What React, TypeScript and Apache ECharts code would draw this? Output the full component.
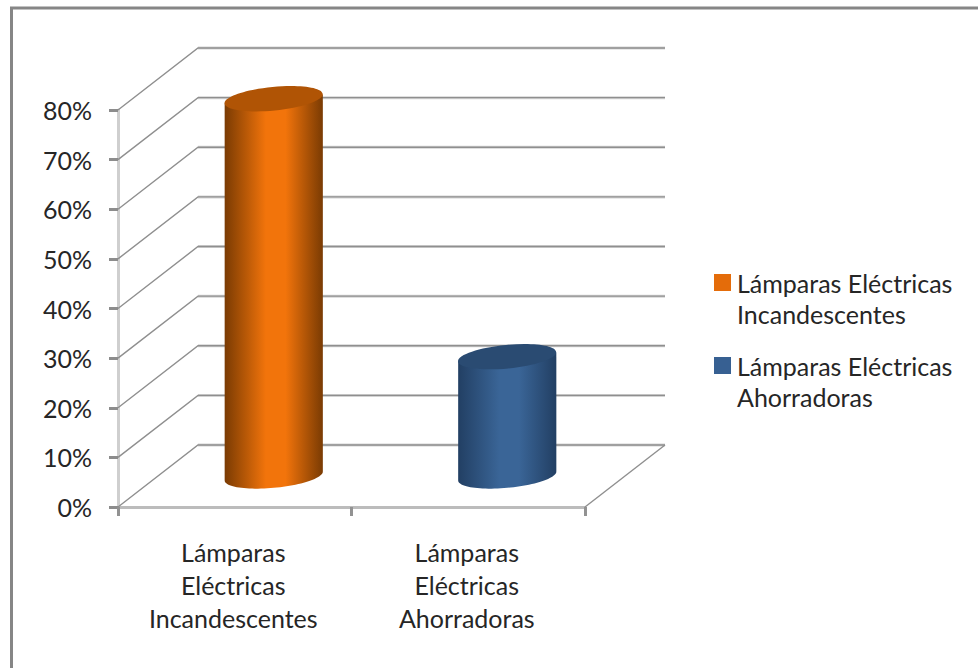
import React, { useEffect, useRef } from "react";
import * as echarts from "echarts";

const categories = ["Lámparas\nEléctricas\nIncandescentes", "Lámparas\nEléctricas\nAhorradoras"];
const seriesNames = ["Lámparas Eléctricas\nIncandescentes", "Lámparas Eléctricas\nAhorradoras"];
const incandescentes = [[0, 76]];
const ahorradoras = [[1, 24]];
const gridTicks = [0, 10, 20, 30, 40, 50, 60, 70, 80];

const FONT = "Lato";
const DEPTH_X = 80;
const DEPTH_Y = 62;

function wallItem(params: any, api: any) {
  const v = api.value(0);
  const p = api.coord([0, v]);
  const cs = params.coordSys;
  const x0 = cs.x;
  const x1 = cs.x + cs.width;
  const y = p[1];
  const children: any[] = [];
  const grey = "#8f8f8f";
  children.push({
    type: "polyline",
    shape: { points: [[x0 + DEPTH_X, y - DEPTH_Y], [x1 + DEPTH_X, y - DEPTH_Y]] },
    style: { stroke: "#d4d4d4", lineWidth: 3, fill: "none" },
  });
  children.push({
    type: "polyline",
    shape: { points: [[x0, y], [x0 + DEPTH_X, y - DEPTH_Y], [x1 + DEPTH_X, y - DEPTH_Y]] },
    style: { stroke: grey, lineWidth: 1.4, fill: "none" },
  });
  if (v === 0) {
    children.push({
      type: "line",
      shape: { x1: x1, y1: y, x2: x1 + DEPTH_X, y2: y - DEPTH_Y },
      style: { stroke: grey, lineWidth: 1.4 },
    });
  }
  return { type: "group", children };
}

function cylinderItem(edge: string, mid: string, top: string) {
  return (params: any, api: any) => {
    const cat = api.value(0);
    const val = api.value(1);
    const base = api.coord([cat, 0]);
    const head = api.coord([cat, val]);
    const cx = base[0] + DEPTH_X / 2 - 1;
    const cyB = base[1] - DEPTH_Y / 2;
    const cyT = head[1] - DEPTH_Y / 2;
    const rx = 49.3;
    const ry = 11.8;
    const th = (-5.5 * Math.PI) / 180;
    const c = Math.cos(th);
    const s = Math.sin(th);
    const t0 = Math.atan2(-ry * s, rx * c);
    const px = (t: number) => rx * Math.cos(t) * c - ry * Math.sin(t) * s;
    const py = (t: number) => rx * Math.cos(t) * s + ry * Math.sin(t) * c;
    const pts: number[][] = [];
    for (let i = 0; i <= 48; i++) {
      const t = t0 + (Math.PI * i) / 48;
      pts.push([cx + px(t), cyB + py(t)]);
    }
    pts.push([cx + px(t0 + Math.PI), cyT + py(t0 + Math.PI)]);
    pts.push([cx + px(t0), cyT + py(t0)]);
    const fill = new echarts.graphic.LinearGradient(0, 0, 1, 0, [
      { offset: 0, color: edge },
      { offset: 0.42, color: mid },
      { offset: 0.62, color: mid },
      { offset: 1, color: edge },
    ]);
    return {
      type: "group",
      children: [
        { type: "polygon", shape: { points: pts }, style: { fill } },
        {
          type: "ellipse",
          originX: cx,
          originY: cyT,
          rotation: -th,
          shape: { cx, cy: cyT, rx, ry },
          style: { fill: top },
        },
      ],
    };
  };
}

export default function App() {
  const ref = useRef<HTMLDivElement>(null);
  useEffect(() => {
    document.body.style.margin = "0";
    const chart = echarts.init(ref.current!, null, { renderer: "svg" });
    chart.setOption({
      animation: false,
      backgroundColor: "#ffffff",
      textStyle: { fontFamily: FONT },
      graphic: [
        {
          type: "polyline",
          silent: true,
          shape: { points: [[11.5, 668], [11.5, 8], [978, 8]] },
          style: { stroke: "#868686", lineWidth: 3, fill: "none" },
        },
      ],
      legend: {
        orient: "vertical",
        left: 714,
        top: 267,
        padding: 0,
        itemWidth: 17,
        itemHeight: 48,
        itemGap: 21,
        icon: "path://M0,0H17V17H0Z M0,48L0.01,48Z",
        textStyle: { fontFamily: FONT, fontSize: 25, lineHeight: 31, color: "#262626", padding: [0, 0, 0, 1] },
        data: seriesNames,
      },
      grid: { left: 118, right: 393, top: 110, bottom: 161 },
      xAxis: {
        type: "category",
        data: categories,
        axisLine: { lineStyle: { color: "#bcbcbc", width: 3 } },
        axisTick: { show: true, length: 9, lineStyle: { color: "#929292", width: 3 } },
        axisLabel: { fontFamily: FONT, fontSize: 25, lineHeight: 33, color: "#262626", margin: 28, padding: [0, 3, 0, 0] },
      },
      yAxis: {
        type: "value",
        min: 0,
        max: 80,
        interval: 10,
        axisLine: { show: true, lineStyle: { color: "#cfcfcf", width: 3 } },
        axisTick: { show: true, length: 9, lineStyle: { color: "#8c8c8c", width: 3 } },
        splitLine: { show: false },
        axisLabel: { fontFamily: FONT, fontSize: 25, color: "#262626", margin: 26, formatter: "{value}%" },
      },
      series: [
        {
          type: "custom",
          silent: true,
          z: 1,
          renderItem: wallItem,
          encode: { y: 0 },
          data: gridTicks.map((v) => [v]),
        },
        {
          name: seriesNames[0],
          type: "custom",
          z: 3,
          itemStyle: { color: "#e46c0a" },
          renderItem: cylinderItem("#7a3b03", "#f2740b", "#b05405"),
          encode: { x: 0, y: 1 },
          data: incandescentes,
        },
        {
          name: seriesNames[1],
          type: "custom",
          z: 3,
          itemStyle: { color: "#376092" },
          renderItem: cylinderItem("#223f63", "#3a6597", "#2a4b72"),
          encode: { x: 0, y: 1 },
          data: ahorradoras,
        },
      ],
    });
    return () => chart.dispose();
  }, []);
  return <div ref={ref} style={{ width: 978, height: 668 }} />;
}
